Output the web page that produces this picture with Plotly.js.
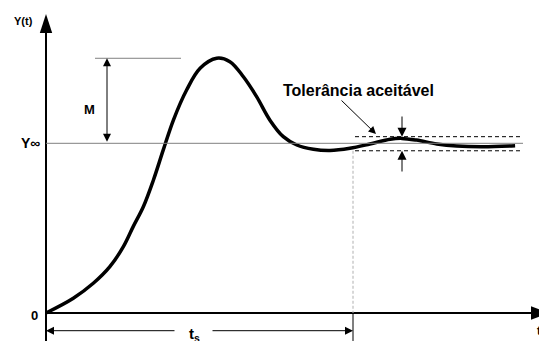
<!DOCTYPE html>
<html>
<head>
<meta charset="utf-8">
<script src="https://cdn.plot.ly/plotly-3.0.1.min.js"></script>
<style>html,body{margin:0;padding:0;background:#fff;}#chart{width:539px;height:341px;}</style>
</head>
<body>
<div id="chart"></div>
<script>
// Step response data (time in arbitrary units, output normalised so Y_inf = 1)
const time = [0, 0.89, 1.54, 2.08, 2.52, 2.84, 3.17, 3.50, 3.82, 4.15, 4.58, 5.02, 5.56, 5.99, 6.43, 6.86, 7.30, 7.73, 8.17, 8.71, 9.25, 9.90, 10.55, 11.21, 11.59, 12.07, 12.73, 13.38, 14.24, 15.28];
const response = [0, 0.087, 0.175, 0.273, 0.391, 0.509, 0.626, 0.784, 0.961, 1.137, 1.314, 1.442, 1.501, 1.481, 1.392, 1.275, 1.135, 1.039, 0.990, 0.965, 0.958, 0.971, 0.996, 1.024, 1.029, 1.019, 0.996, 0.984, 0.980, 0.986];
const yInf = 1.0;
const peak = 1.501;
const settlingTime = 10.0;
const tolHigh = 1.039;
const tolLow = 0.956;
const labels = {yAxis: 'Y(t)', xAxis: 't', overshoot: 'M', final: 'Y∞', zero: '0', tolerance: 'Tolerância aceitável', settling: 't<sub>s</sub>'};

// pixel -> data helpers for decorations (plot area fills the whole figure)
const PX0 = 46, PXU = 30.7, PY0 = 313, PYU = 169.7;
const X = px => (px - PX0) / PXU;
const Y = py => (PY0 - py) / PYU;

const FONT = 'Liberation Sans, Arial, sans-serif';
const txt = (text, px, py, size, extra) => Object.assign({
  x: X(px), y: Y(py), xref: 'x', yref: 'y', text: '<b>' + text + '</b>', showarrow: false,
  font: {family: FONT, size: size, color: '#000'},
  xanchor: 'center', yanchor: 'middle'
}, extra || {});
const arr = (hx, hy, tx, ty, size, width, color, extra) => Object.assign({
  x: hx, y: hy, ax: tx, ay: ty, xref: 'x', yref: 'y', axref: 'x', ayref: 'y',
  text: '', showarrow: true, arrowhead: 2, arrowsize: size, arrowwidth: width,
  arrowcolor: color, standoff: 0, startstandoff: 0
}, extra || {});

const trace = {
  x: time, y: response, type: 'scatter', mode: 'lines',
  line: {color: '#000', width: 3.5, shape: 'spline', smoothing: 1},
  hoverinfo: 'skip'
};

const shapes = [
  // y axis
  {type: 'line', xref: 'x', yref: 'y', x0: 0, x1: 0, y0: Y(341), y1: Y(30), line: {color: '#000', width: 2}},
  {type: 'path', xref: 'x', yref: 'y', path: `M${X(46)},${Y(14)} L${X(39.8)},${Y(33)} L${X(52.2)},${Y(33)} Z`, fillcolor: '#000', line: {width: 0}},
  // x axis
  {type: 'line', xref: 'x', yref: 'y', x0: 0, x1: X(533), y0: 0, y1: 0, line: {color: '#000', width: 2}},
  {type: 'path', xref: 'x', yref: 'y', path: `M${X(549)},${Y(313)} L${X(531)},${Y(306.3)} L${X(531)},${Y(319.7)} Z`, fillcolor: '#000', line: {width: 0}},
  // final value line
  {type: 'line', xref: 'x', yref: 'y', x0: 0, x1: X(523), y0: yInf, y1: yInf, line: {color: '#808080', width: 1}},
  // peak reference line
  {type: 'line', xref: 'x', yref: 'y', x0: X(95), x1: X(181), y0: peak, y1: peak, line: {color: '#808080', width: 1}},
  // tolerance band
  {type: 'line', xref: 'x', yref: 'y', x0: X(355), x1: X(523), y0: tolHigh, y1: tolHigh, line: {color: '#000', width: 1, dash: '4px,3px'}},
  {type: 'line', xref: 'x', yref: 'y', x0: X(355), x1: X(523), y0: tolLow, y1: tolLow, line: {color: '#000', width: 1, dash: '4px,3px'}},
  // settling time marker
  {type: 'line', xref: 'x', yref: 'y', x0: settlingTime, x1: settlingTime, y0: tolLow, y1: 0, line: {color: '#b0b0b0', width: 1, dash: '3px,2px'}},
  {type: 'line', xref: 'x', yref: 'y', x0: settlingTime, x1: settlingTime, y0: 0, y1: Y(341), line: {color: '#000', width: 1}}
];

const annotations = [
  txt(labels.yAxis, 23.5, 21, 11),
  txt(labels.overshoot, 89, 109, 13),
  txt(labels.final, 30, 142.5, 14),
  txt(labels.zero, 34.5, 315, 13),
  txt(labels.tolerance, 358.5, 90, 16),
  txt(labels.settling, 194, 334, 15),
  txt(labels.xAxis, 535, 331, 12, {xanchor: 'left'}),
  // overshoot double arrow
  arr(X(107), peak, X(107), yInf, 1.6, 1, '#000', {arrowside: 'end+start'}),
  // settling time arrows
  arr(0, Y(330.7), X(176), Y(330.7), 1.6, 1, '#000'),
  arr(settlingTime, Y(330.7), X(211), Y(330.7), 1.6, 1, '#000'),
  // tolerance arrows
  arr(X(402), tolHigh, X(402), Y(115), 1.8, 1, '#000'),
  arr(X(402), tolLow, X(402), Y(173), 1.8, 1, '#000'),
  // pointer from label to band
  arr(X(376), Y(134), X(340), Y(99), 1.5, 1, '#000')
];

const layout = {
  width: 539, height: 341,
  margin: {l: 0, r: 0, t: 0, b: 0, pad: 0},
  paper_bgcolor: '#fff', plot_bgcolor: '#fff',
  showlegend: false,
  xaxis: {range: [X(0), X(539)], visible: false, fixedrange: true},
  yaxis: {range: [Y(341), Y(0)], visible: false, fixedrange: true},
  shapes: shapes,
  annotations: annotations
};

Plotly.newPlot('chart', [trace], layout, {staticPlot: true, displayModeBar: false});
</script>
</body>
</html>
